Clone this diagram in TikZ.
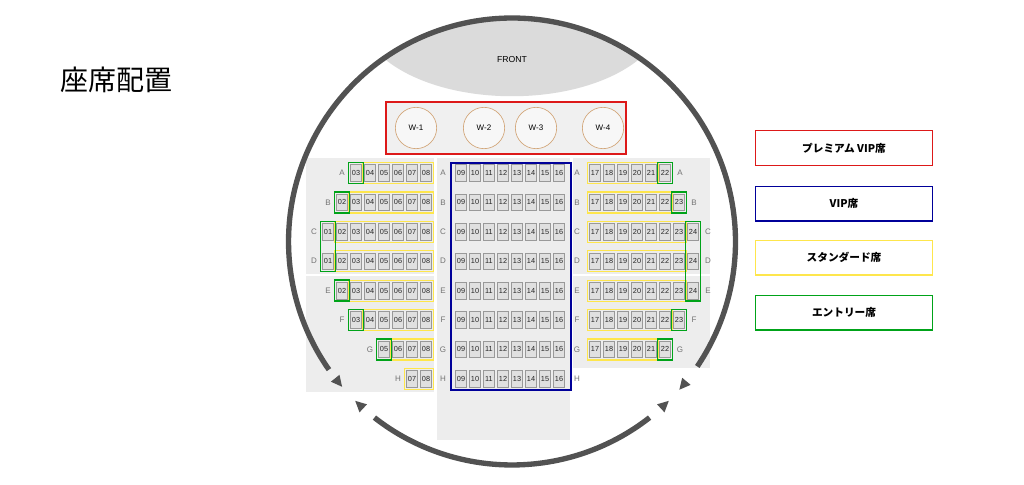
\documentclass[tikz,border=0pt]{standalone}
\usepackage{fontspec}
\usetikzlibrary{calc}
\setmainfont{Liberation Sans}
\newfontfamily\cjk{Noto Sans CJK JP}
\begin{document}
\begin{tikzpicture}[x=0.75pt,y=0.75pt,
  seat/.style={draw=gray!80,fill=black!12,line width=0.4pt,minimum width=8.5pt,minimum height=12.5pt,inner sep=0pt,font=\fontsize{5.5}{6}\selectfont,text=black!85},
  lab/.style={font=\fontsize{6}{7}\selectfont,text=black!55},
  grpY/.style={draw=yellow!80!orange!70!white,line width=0.9pt},
  grpG/.style={draw=green!60!black!90!cyan,line width=1pt},
  ring/.style={line width=4pt,draw=black!68},
  tri/.style={fill=black!68},
  legend/.style={draw,line width=1pt,minimum width=133pt,minimum height=26pt,font=\cjk\bfseries\fontsize{8}{9}\selectfont}]
\useasboundingbox (0,0) rectangle (1024,-485);
\fill[white] (0,0) rectangle (1024,-485);
\node[anchor=west,font=\cjk\fontsize{21}{24}\selectfont] (title) at (56,-80) {座席配置};
\coordinate (C) at (512,-241.5);
% panels
\fill[black!7] (306,-158) rectangle (434,-392);
\fill[black!7] (437,-158) rectangle (570,-440);
\fill[black!7] (573,-158) rectangle (710,-368);
\draw[white,line width=1.2pt] (306,-275) -- (434,-275);
\draw[white,line width=1.2pt] (573,-275) -- (710,-275);
% front
\begin{scope}
\clip (C) circle (167.6pt);
\fill[black!14] (380,-55) .. controls (440,-110) and (584,-110) .. (644,-55) -- (644,0) -- (380,0) -- cycle;
\end{scope}
\node[font=\fontsize{6.5}{7}\selectfont] (front) at (512,-60) {FRONT};
% W box
\node[draw=red!85!black!90,line width=1pt,fill=black!6,minimum width=180pt,minimum height=39pt] (wbox) at (506,-128) {};
\foreach \i/\x in {1/416,2/484,3/536,4/603}
  \node[circle,draw=brown!70,line width=0.5pt,fill=black!3,minimum size=31pt,font=\fontsize{6}{7}\selectfont,inner sep=0pt] (w\i) at (\x,-128) {W-\i};
% helper
\newcommand\rowseats[4]{% #1 row letter, #2 y, #3 offset, #4 list
  \foreach \n in {#4}
    \node[seat] (s-#1-\n) at ({#3+14*\n},-#2) {\ifnum\n<10 0\fi\n};}
\newcommand\bx[6]{% style x1 x2 y1 y2 name
  \draw[#1] ({#2-7.5},{-#4+10.5}) rectangle ({#3+7.5},{-#5-10.5});}
% rows
\foreach \r/\y [count=\k] in {A/173,B/202.4,C/231.8,D/261.2,E/290.6,F/320,G/349.4,H/378.8}{
  \node[lab] (cl-\r) at (443,-\y) {\r};
  \node[lab] (cr-\r) at (577,-\y) {\r};
  \rowseats{\r}{\y}{335}{9,...,16}
}
\draw[blue!60!black,line width=1pt] (451,-163) rectangle (571,-390);
% left block
\rowseats{LA}{173}{314}{3,...,8}   \node[lab] at (342,-173) {A};
\rowseats{LB}{202.4}{314}{2,...,8} \node[lab] at (328,-202.4) {B};
\rowseats{LC}{231.8}{314}{1,...,8} \node[lab] at (314,-231.8) {C};
\rowseats{LD}{261.2}{314}{1,...,8} \node[lab] at (314,-261.2) {D};
\rowseats{LE}{290.6}{314}{2,...,8} \node[lab] at (328,-290.6) {E};
\rowseats{LF}{320}{314}{3,...,8}   \node[lab] at (342,-320) {F};
\rowseats{LG}{349.4}{314}{5,...,8} \node[lab] at (370,-349.4) {G};
\rowseats{LH}{378.8}{314}{7,8}     \node[lab] at (398,-378.8) {H};
\bx{grpY}{370}{426}{173}{173}{}
\bx{grpY}{356}{426}{202.4}{202.4}{}
\bx{grpY}{342}{426}{231.8}{231.8}{}
\bx{grpY}{342}{426}{261.2}{261.2}{}
\bx{grpY}{356}{426}{290.6}{290.6}{}
\bx{grpY}{370}{426}{320}{320}{}
\bx{grpY}{398}{426}{349.4}{349.4}{}
\bx{grpY}{412}{426}{378.8}{378.8}{}
\bx{grpG}{356}{356}{173}{173}{}
\bx{grpG}{342}{342}{202.4}{202.4}{}
\bx{grpG}{328}{328}{231.8}{261.2}{}
\bx{grpG}{342}{342}{290.6}{290.6}{}
\bx{grpG}{356}{356}{320}{320}{}
\bx{grpG}{384}{384}{349.4}{349.4}{}
% right block
\rowseats{RA}{173}{357}{17,...,22}   \node[lab] at (680,-173) {A};
\rowseats{RB}{202.4}{357}{17,...,23} \node[lab] at (694,-202.4) {B};
\rowseats{RC}{231.8}{357}{17,...,24} \node[lab] at (708,-231.8) {C};
\rowseats{RD}{261.2}{357}{17,...,24} \node[lab] at (708,-261.2) {D};
\rowseats{RE}{290.6}{357}{17,...,24} \node[lab] at (708,-290.6) {E};
\rowseats{RF}{320}{357}{17,...,23}   \node[lab] at (694,-320) {F};
\rowseats{RG}{349.4}{357}{17,...,22} \node[lab] at (680,-349.4) {G};
\bx{grpY}{595}{651}{173}{173}{}
\bx{grpY}{595}{665}{202.4}{202.4}{}
\bx{grpY}{595}{679}{231.8}{231.8}{}
\bx{grpY}{595}{679}{261.2}{261.2}{}
\bx{grpY}{595}{679}{290.6}{290.6}{}
\bx{grpY}{595}{665}{320}{320}{}
\bx{grpY}{595}{651}{349.4}{349.4}{}
\bx{grpG}{665}{665}{173}{173}{}
\bx{grpG}{679}{679}{202.4}{202.4}{}
\bx{grpG}{693}{693}{231.8}{290.6}{}
\bx{grpG}{679}{679}{320}{320}{}
\bx{grpG}{665}{665}{349.4}{349.4}{}
% ring
\draw[ring] ($(C)+(-34:167.6pt)$) arc[start angle=-34,end angle=215,radius=167.6pt];
\draw[ring] ($(C)+(232:167.6pt)$) arc[start angle=232,end angle=308,radius=167.6pt];
\foreach \a/\r in {219/90,227/-90,313/90,320/-90}
  \fill[tri,shift={($(C)+(\a:167.6pt)$)},rotate=\a+\r] (6,0) -- (-5,5.5) -- (-5,-5.5) -- cycle;
% legend
\node[legend,draw=red!85!black!90] (l1) at (844,-148) {プレミアム VIP席};
\node[legend,draw=blue!60!black] (l2) at (844,-203.5) {VIP席};
\node[legend,draw=yellow!80!orange!70!white] (l3) at (844,-257.5) {スタンダード席};
\node[legend,draw=green!60!black!90!cyan] (l4) at (844,-312.5) {エントリー席};
\end{tikzpicture}
\end{document}
